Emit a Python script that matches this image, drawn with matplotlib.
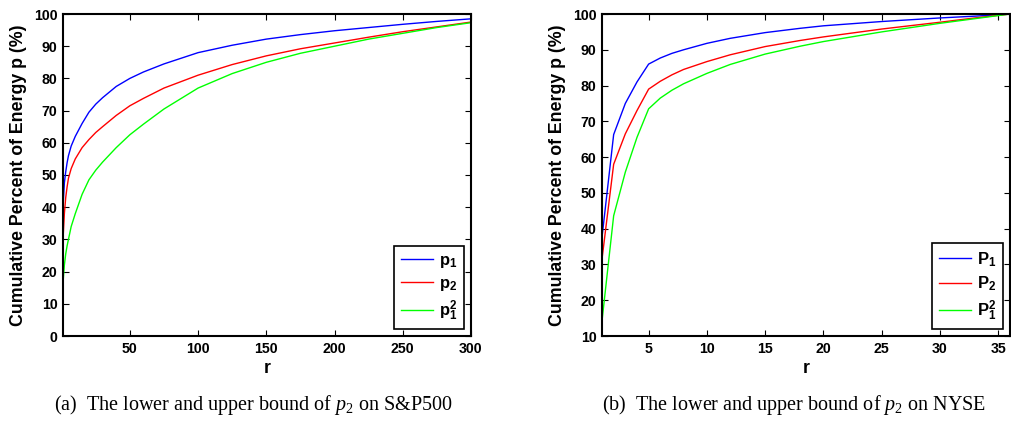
import matplotlib
matplotlib.use("Agg")
import matplotlib.pyplot as plt

plt.rcParams['font.family'] = ['Liberation Sans', 'DejaVu Sans']
plt.rcParams['mathtext.fontset'] = 'custom'
plt.rcParams['mathtext.it'] = 'Liberation Serif:italic'
plt.rcParams['mathtext.rm'] = 'Liberation Serif'
plt.rcParams['mathtext.bf'] = 'Liberation Sans:bold'

# ---- S&P500 data ----
r_sp = [1, 2, 3, 4, 5, 7, 10, 15, 20, 25, 30, 40, 50, 60, 75, 100, 125, 150, 175, 200, 225, 250, 275, 300]
sp_p1 = [40, 47.5, 51, 53.8, 56, 59, 62, 66, 69.5, 72, 74, 77.5, 80, 82, 84.5, 88, 90.3, 92.2, 93.6, 94.8, 95.8, 96.8, 97.7, 98.5]
sp_p2 = [30, 38, 43, 46.3, 49, 52, 55, 58.5, 61, 63.2, 65, 68.5, 71.5, 73.8, 77, 81, 84.3, 87, 89.2, 91, 92.8, 94.5, 96, 97.5]
sp_p1sq = [16.5, 22, 25.5, 28, 30, 34, 38, 44, 48.5, 51.5, 54, 58.5, 62.5, 65.8, 70.5, 77, 81.5, 85, 87.8, 90, 92.2, 94, 95.8, 97.3]

# ---- NYSE data ----
r_ny = [1, 2, 3, 4, 5, 6, 7, 8, 10, 12, 15, 18, 20, 25, 30, 33, 36]
ny_p1 = [37.6, 66.3, 75, 81, 86, 87.7, 89, 90, 91.8, 93.2, 94.8, 96, 96.7, 97.9, 98.9, 99.4, 100]
ny_p2 = [31.5, 58, 66.5, 73, 79, 81.2, 83, 84.5, 86.7, 88.6, 90.9, 92.6, 93.6, 95.8, 97.7, 98.9, 100]
ny_p1sq = [14.2, 43.6, 55.8, 65.5, 73.5, 76.5, 78.7, 80.5, 83.4, 85.9, 88.8, 91, 92.3, 95, 97.4, 98.7, 100]

sp_xticks = [50, 100, 150, 200, 250, 300]
sp_yticks = list(range(0, 101, 10))
ny_xticks = [5, 10, 15, 20, 25, 30, 35]
ny_yticks = list(range(10, 101, 10))

labels_sp = [r'$\mathbf{p}_{\mathbf{1}}$', r'$\mathbf{p}_{\mathbf{2}}$', r'$\mathbf{p}_{\mathbf{1}}^{\mathbf{2}}$']
labels_ny = [r'$\mathbf{P}_{\mathbf{1}}$', r'$\mathbf{P}_{\mathbf{2}}$', r'$\mathbf{P}_{\mathbf{1}}^{\mathbf{2}}$']
colors = ['#0000ff', '#ff0000', '#00ff00']

ylabel = 'Cumulative Percent of Energy p (%)'
captions = [r'(a)  The lower and upper bound of $p_2$ on S&P500',
            r'(b)  The lower and upper bound of $p_2$ on NYSE']

fig = plt.figure(figsize=(10.12, 4.22), dpi=100)
ax1 = fig.add_axes([63/1012, 86/422, 408/1012, 322/422])
ax2 = fig.add_axes([602/1012, 86/422, 408/1012, 322/422])


def style(ax, xt, yt, xlim, ylim):
    ax.set_xlim(*xlim)
    ax.set_ylim(*ylim)
    ax.set_xticks(xt)
    ax.set_yticks(yt)
    ax.tick_params(direction='in', top=True, right=True, length=4, width=0.8,
                   labelsize=10.2, pad=4)
    for lbl in ax.get_xticklabels() + ax.get_yticklabels():
        lbl.set_fontweight('bold')
    for s in ax.spines.values():
        s.set_linewidth(1.5)
    ax.set_xlabel('r', fontsize=12.8, fontweight='bold', labelpad=3)
    ax.set_ylabel(ylabel, fontsize=12.8, fontweight='bold', labelpad=5)


for ax, x, ys, labs in [(ax1, r_sp, [sp_p1, sp_p2, sp_p1sq], labels_sp),
                        (ax2, r_ny, [ny_p1, ny_p2, ny_p1sq], labels_ny)]:
    for y, c, l in zip(ys, colors, labs):
        ax.plot(x, y, color=c, lw=1.0, label=l)
    leg = ax.legend(loc='lower right', fontsize=12, fancybox=False, framealpha=1,
                    edgecolor='black', handlelength=1.9, labelspacing=0.35,
                    borderaxespad=0.4, handletextpad=0.4, borderpad=0.4)
    leg.get_frame().set_linewidth(1.2)

style(ax1, sp_xticks, sp_yticks, (1, 300), (0, 100))
style(ax2, ny_xticks, ny_yticks, (1, 36), (10, 100))

fig.text(253/1012, 1 - 405/422, captions[0], ha='center', va='center',
         fontsize=14.5, family='Liberation Serif')
fig.text(794/1012, 1 - 405/422, captions[1], ha='center', va='center',
         fontsize=14.5, family='Liberation Serif')

fig.savefig('out.png', dpi=100)
